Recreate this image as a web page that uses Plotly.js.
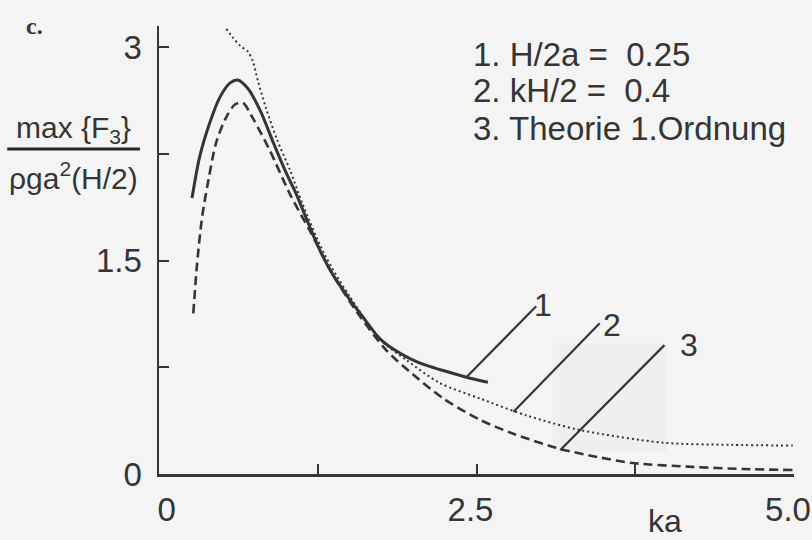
<!DOCTYPE html>
<html>
<head>
<meta charset="utf-8">
<script src="https://cdn.plot.ly/plotly-3.0.1.min.js"></script>
<style>html,body{margin:0;padding:0;background:#f4f4f4;}</style>
</head>
<body>
<div id="chart" style="width:812px;height:540px;"></div>
<script>
// Curve 1: H/2a = 0.25 (solid)
const ka1 = [0.26,0.32,0.40,0.48,0.56,0.62,0.70,0.80,0.90,1.00,1.08,1.20,1.29,1.37,1.50,1.60,1.74,1.85,1.98,2.10,2.21,2.42,2.59];
const f1  = [1.94,2.23,2.47,2.65,2.75,2.77,2.71,2.55,2.33,2.12,1.97,1.71,1.53,1.40,1.23,1.11,0.95,0.875,0.81,0.765,0.735,0.68,0.645];
// Curve 2: kH/2 = 0.4 (dotted)
const ka2 = [0.53,0.58,0.64,0.70,0.74,0.78,0.84,0.93,1.03,1.13,1.30,1.50,1.75,1.95,2.21,2.53,2.90,3.31,3.97,4.50,4.99];
const f2  = [3.13,3.07,3.01,2.97,2.90,2.76,2.58,2.35,2.14,1.90,1.55,1.25,0.94,0.80,0.64,0.53,0.41,0.31,0.22,0.205,0.20];
// Curve 3: Theorie 1. Ordnung (dashed)
const ka3 = [0.27,0.30,0.34,0.39,0.45,0.53,0.60,0.66,0.74,0.87,1.03,1.20,1.37,1.55,1.79,2.00,2.24,2.53,2.80,3.16,3.45,3.73,4.20,4.60,4.99];
const f3  = [1.13,1.48,1.81,2.07,2.33,2.51,2.60,2.61,2.50,2.28,1.97,1.69,1.40,1.15,0.87,0.70,0.53,0.38,0.28,0.176,0.12,0.077,0.05,0.035,0.028];

// Tick labels (major) and minor tick steps
const xTickVals = [0,2.5,5];
const xTickText = ["\u00a0\u00a0\u00a00","2.5","5.0"];
const xMinorStep = 1.25;
const yTickVals = [0,1.5,3];
const yTickText = ["0","1.5","3"];
const yMinorStep = 0.75;

// Callout labels (curve number, start on curve, end of leader line, label position)
const calloutNames = ["1","2","3"];
const calloutX0 = [2.42,2.79,3.16];
const calloutY0 = [0.68,0.436,0.169];
const calloutX1 = [2.97,3.47,3.98];
const calloutY1 = [1.18,1.06,0.906];
const calloutLabelX = [3.02,3.57,4.17];
const calloutLabelY = [1.19,1.05,0.906];

const legendLines = ["1. H/2a =\u00a0 0.25","2. kH/2 =\u00a0 0.4","3. Theorie 1.Ordnung"];

const ink = '#353535';
const FONT = 'Liberation Sans, Arial, sans-serif';

const traces = [
  {x: ka1, y: f1, mode:'lines', line:{color:ink, width:3, shape:'spline', smoothing:0.8}, hoverinfo:'skip', showlegend:false},
  {x: ka2, y: f2, mode:'lines', line:{color:ink, width:2, dash:'2px,3px', shape:'spline', smoothing:0.8}, hoverinfo:'skip', showlegend:false},
  {x: ka3, y: f3, mode:'lines', line:{color:ink, width:2.6, dash:'9px,5px', shape:'spline', smoothing:0.8}, hoverinfo:'skip', showlegend:false}
];

const shapes = [
  // faint scan patch
  {type:'rect', xref:'x', yref:'y', x0:3.10, x1:4.0, y0:0.155, y1:0.92, fillcolor:'#efefef', line:{width:0}, layer:'below'},
  // fraction bar of the y title
  {type:'line', xref:'paper', yref:'paper', x0:-0.239, x1:-0.030, y0:0.7254, y1:0.7254, line:{color:'#262626', width:3}}
];
calloutNames.forEach((n,i)=>{
  shapes.push({type:'line', xref:'x', yref:'y', x0:calloutX0[i], y0:calloutY0[i], x1:calloutX1[i], y1:calloutY1[i], line:{color:ink, width:2.2}});
});

const annotations = [];
calloutNames.forEach((n,i)=>{
  annotations.push({xref:'x', yref:'y', x:calloutLabelX[i], y:calloutLabelY[i], text:n, showarrow:false, xanchor:'center', yanchor:'middle', font:{family:FONT, size:32, color:ink}});
});
const legendY = [0.9375, 0.857, 0.772];
legendLines.forEach((t,i)=>{
  annotations.push({xref:'paper', yref:'paper', x:0.491, y:legendY[i], text:t, showarrow:false, xanchor:'left', yanchor:'middle', font:{family:FONT, size:33, color:ink}});
});
annotations.push({xref:'paper', yref:'paper', x:-0.135, y:0.768, text:'max {F<sub>3</sub>}', showarrow:false, xanchor:'center', yanchor:'middle', font:{family:FONT, size:30, color:ink}});
annotations.push({xref:'paper', yref:'paper', x:-0.135, y:0.665, text:'ρga<sup>2</sup>(H/2)', showarrow:false, xanchor:'center', yanchor:'middle', font:{family:FONT, size:30, color:ink}});
annotations.push({xref:'paper', yref:'paper', x:-0.196, y:1.0, text:'<b>c.</b>', showarrow:false, xanchor:'center', yanchor:'middle', font:{family:'Liberation Serif, serif', size:24, color:ink}});
annotations.push({xref:'paper', yref:'paper', x:0.797, y:-0.105, text:'ka', showarrow:false, xanchor:'center', yanchor:'middle', font:{family:FONT, size:32, color:ink}});

const axisCommon = {
  showgrid:false, zeroline:false, showline:true, linecolor:ink, linewidth:2.5,
  ticks:'inside', ticklen:10, tickwidth:2, tickcolor:ink, automargin:false,
  ticklabeloverflow:'allow',
  tickfont:{family:FONT, size:33, color:ink}
};

const layout = {
  width:812, height:540,
  margin:{l:159, r:18, t:26, b:66, pad:0},
  paper_bgcolor:'#f4f4f4', plot_bgcolor:'#f4f4f4',
  showlegend:false,
  xaxis: Object.assign({}, axisCommon, {range:[0,5], tickmode:'array', tickvals:xTickVals, ticktext:xTickText, ticklabelstandoff:5, ticklabelshift:-6,
    minor:{ticks:'inside', ticklen:10, tickwidth:2, tickcolor:ink, tick0:0, dtick:xMinorStep, showgrid:false}}),
  yaxis: Object.assign({}, axisCommon, {range:[0,3.15], tickmode:'array', tickvals:yTickVals, ticktext:yTickText, ticklabelstandoff:8,
    minor:{ticks:'inside', ticklen:10, tickwidth:2, tickcolor:ink, tick0:0, dtick:yMinorStep, showgrid:false}}),
  shapes: shapes,
  annotations: annotations
};

Plotly.newPlot('chart', traces, layout, {staticPlot:true, displayModeBar:false});
</script>
</body>
</html>
